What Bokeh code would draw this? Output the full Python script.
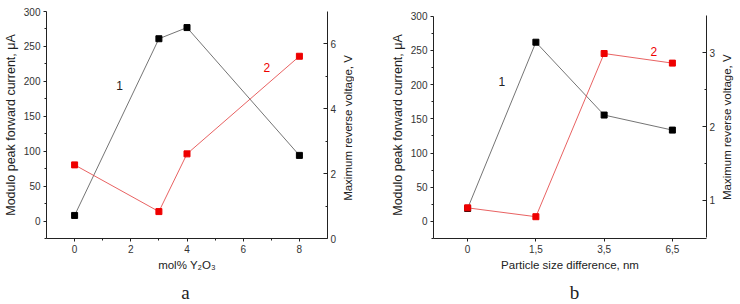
import math
from bokeh.plotting import figure
from bokeh.models import Range1d, LinearAxis, FixedTicker, Label, FactorRange
from bokeh.layouts import row, column
from bokeh.embed import file_html
from bokeh.resources import INLINE

# ---- data: panel a ----
x_a = [0, 3, 4, 8]
current_a = [8, 261, 277, 94]          # μA (left axis), curve 1
voltage_a = [2.27, 0.83, 2.61, 5.62]   # V (right axis), curve 2

# ---- data: panel b ----
x_b = ["0", "1,5", "3,5", "6,5"]
current_b = [19, 262, 155.5, 133.5]
voltage_b = [0.90, 0.78, 2.99, 2.86]

FONT = "Liberation Sans"
BLACK_LINE = "#505050"
RED_LINE = "#e23a3a"
RED_MARK = "#ee0000"
RIGHT_TITLE = "Maximum reverse voltage, V"
LEFT_TITLE = "Modulo peak forward current, \u03bcA"
H_MAIN = 280
H_LETTERS = 23
TOP = 11       # frame top (px)
BOTTOM = 42    # border under the frame (px)


def style_axis(ax, inward=False, label_size="11.5px"):
    ax.axis_line_color = "#222222"
    ax.axis_line_width = 1
    ax.major_tick_line_color = "#222222"
    ax.minor_tick_line_color = "#222222"
    if inward:
        ax.major_tick_in = 4
        ax.major_tick_out = 0
        ax.minor_tick_in = 2
        ax.minor_tick_out = 0
    else:
        ax.major_tick_in = 0
        ax.major_tick_out = 3
        ax.minor_tick_in = 0
        ax.minor_tick_out = 2
    ax.major_label_text_font = FONT
    ax.major_label_text_font_size = "10px"
    ax.major_label_text_color = "#333333"
    ax.major_label_standoff = 3
    ax.axis_label_text_font = FONT
    ax.axis_label_text_font_style = "normal"
    ax.axis_label_text_font_size = label_size
    ax.axis_label_text_color = "#222222"
    ax.axis_label_standoff = 3


def base_fig(width, x_range, y_range, mbl, mbr):
    p = figure(width=width, height=H_MAIN, x_range=x_range, y_range=y_range,
               output_backend="svg", toolbar_location=None,
               min_border_left=mbl, min_border_right=mbr,
               min_border_top=TOP, min_border_bottom=BOTTOM)
    p.outline_line_color = None
    p.xgrid.visible = False
    p.ygrid.visible = False
    p.background_fill_color = "white"
    p.border_fill_color = "white"
    return p


def side_strip(width):
    # blank helper canvas whose y coordinate equals the pixel row from the top
    f = figure(width=width, height=H_MAIN, x_range=Range1d(0, width),
               y_range=Range1d(H_MAIN - BOTTOM, TOP), x_axis_type=None, y_axis_type=None,
               output_backend="svg", toolbar_location=None, min_border_left=0,
               min_border_right=0, min_border_top=TOP, min_border_bottom=BOTTOM)
    f.outline_line_color = None
    f.background_fill_color = "white"
    f.border_fill_color = "white"
    return f


def letter_strip(width, height):
    f = figure(width=width, height=height, x_range=Range1d(0, width),
               y_range=Range1d(0, height), x_axis_type=None, y_axis_type=None,
               output_backend="svg", toolbar_location=None, min_border=0)
    f.outline_line_color = None
    f.background_fill_color = "white"
    f.border_fill_color = "white"
    return f


def add_text(p, x, y, text, size="12px", color="#222222", font=FONT,
             angle=0.0, baseline="middle"):
    p.add_layout(Label(x=x, y=y, text=text, angle=angle,
                       text_font=font, text_font_size=size, text_color=color,
                       text_align="center", text_baseline=baseline))


# ================= panel a =================
pa = base_fig(340, Range1d(-1, 9), Range1d(-25, 300), 44, 13)
pa.extra_y_ranges = {"v": Range1d(0, 7)}

pa.xaxis.ticker = FixedTicker(ticks=[0, 2, 4, 6, 8], minor_ticks=[1, 3, 5, 7])
pa.yaxis.ticker = FixedTicker(ticks=[0, 50, 100, 150, 200, 250, 300],
                              minor_ticks=[-25, 25, 75, 125, 175, 225, 275])
pa.xaxis.axis_label = "mol% Y\u2082O\u2083"
pa.yaxis.axis_label = LEFT_TITLE
style_axis(pa.xaxis[0])
style_axis(pa.yaxis[0], label_size="12.5px")

ra = LinearAxis(y_range_name="v",
                ticker=FixedTicker(ticks=[0, 2, 4, 6], minor_ticks=[1, 3, 5]))
style_axis(ra, inward=True)
pa.add_layout(ra, "right")

pa.line(x_a, current_a, line_color=BLACK_LINE, line_width=0.8)
pa.scatter(x_a, current_a, marker="square", size=6, color="black")
pa.line(x_a, voltage_a, y_range_name="v", line_color=RED_LINE, line_width=0.8)
pa.scatter(x_a, voltage_a, y_range_name="v", marker="square", size=6, color=RED_MARK)

add_text(pa, 1.6, 194, "1")
add_text(pa, 6.84, 220, "2", color="#ee0000")

ta = side_strip(14)
add_text(ta, 7, 127.5, RIGHT_TITLE, size="11.5px", angle=math.pi / 2)

# ================= panel b =================
pb = base_fig(364, FactorRange(factors=x_b, range_padding=0), Range1d(-25, 306.9), 79, 10)
pb.extra_y_ranges = {"v": Range1d(0.485, 3.559)}

pb.yaxis.ticker = FixedTicker(ticks=[0, 50, 100, 150, 200, 250, 300],
                              minor_ticks=[-25, 25, 75, 125, 175, 225, 275])
pb.yaxis.bounds = (-25, 300)
pb.xaxis.axis_label = "Particle size difference, nm"
pb.yaxis.axis_label = LEFT_TITLE
style_axis(pb.xaxis[0])
style_axis(pb.yaxis[0], label_size="12.5px")
pb.xaxis.major_label_orientation = "horizontal"

rb = LinearAxis(y_range_name="v", bounds=(0.5, 3.5),
                ticker=FixedTicker(ticks=[1, 2, 3], minor_ticks=[1.5, 2.5]))
style_axis(rb, inward=True)
pb.add_layout(rb, "right")

pb.line(x_b, current_b, line_color=BLACK_LINE, line_width=0.8)
pb.scatter(x_b, current_b, marker="square", size=6, color="black")
pb.line(x_b, voltage_b, y_range_name="v", line_color=RED_LINE, line_width=0.8)
pb.scatter(x_b, voltage_b, y_range_name="v", marker="square", size=6, color=RED_MARK)

add_text(pb, 1.0, 205, "1")
add_text(pb, 3.23, 249, "2", color="#ee0000")

tb = side_strip(21)
add_text(tb, 8, 126.7, RIGHT_TITLE, size="11.5px", angle=math.pi / 2)

# ================= panel letters =================
letters = letter_strip(739, H_LETTERS)
add_text(letters, 185, 11, "a", size="19px", font="Liberation Serif", baseline="alphabetic")
add_text(letters, 574, 11, "b", size="19px", font="Liberation Serif", baseline="alphabetic")

layout = column(row(pa, ta, pb, tb), letters)
open("out.html", "w").write(file_html(layout, INLINE))
